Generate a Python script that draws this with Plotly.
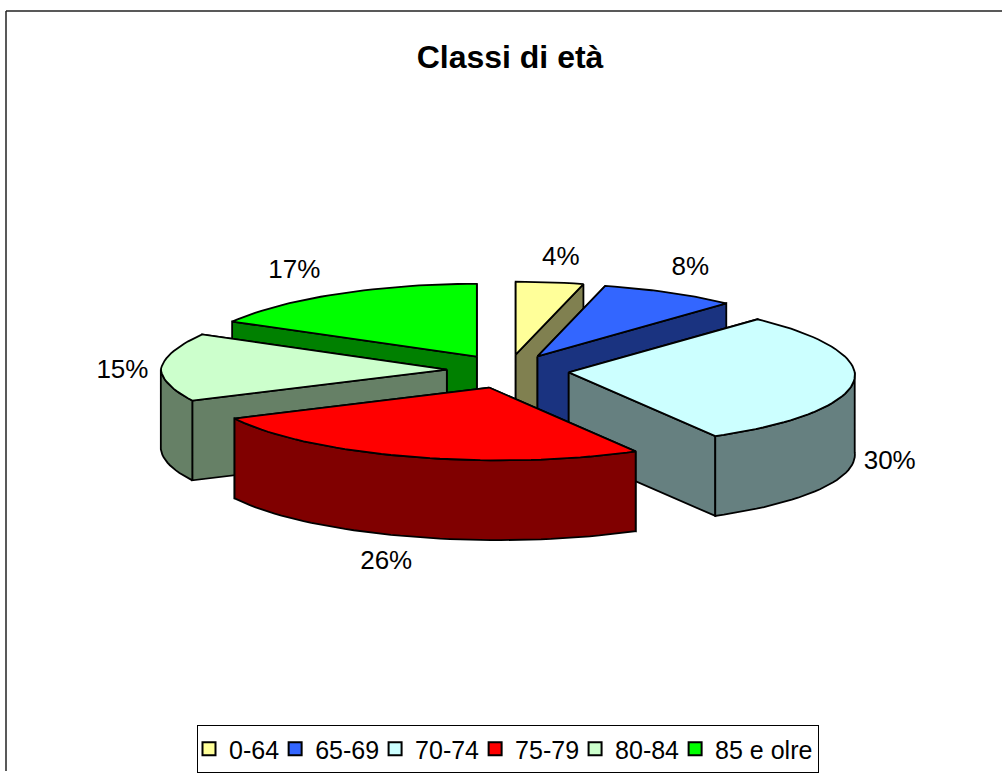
import math
import plotly.graph_objects as go

# ---- data ----
categories = ["0-64", "65-69", "70-74", "75-79", "80-84", "85 e olre"]
shares = [4, 8, 30, 26, 15, 17]
title = "Classi di età"

# ---- styles ----
top_colors = ["#FFFF99", "#3366FF", "#CCFFFF", "#FF0000", "#CCFFCC", "#00FF00"]
wall_colors = ["#808050", "#1A3380", "#668080", "#800000", "#668066", "#008000"]
label_offsets = [(11, -24), (21, -24), (36, 82), (-24, 109), (-39, 4), (-43, -23)]
FONT = "Liberation Sans, Arial, sans-serif"
W, H = 1002, 773
CX, CY, RX, RY = 508, 371, 286, 73
DEPTH, PULL = 80, 0.214
LW = 1.8


def unit(deg):
    a = math.radians(deg)
    return math.sin(a), -math.cos(a)


def project(ox, oz, u=0.0, v=0.0):
    # offset of the exploded slice plus a point on the disc, with a slight skew of the disc
    skew = 10 * v if v > 0 else 14 * u * v
    return CX + RX * (ox + u) + skew, CY + RY * (oz + v)


def rim(a0, a1, step=2.0):
    n = max(1, int(abs(a1 - a0) / step))
    return [a0 + (a1 - a0) * i / n for i in range(n + 1)]


fig = go.Figure()


def poly(pts, fill):
    xs = [p[0] for p in pts] + [pts[0][0]]
    ys = [p[1] for p in pts] + [pts[0][1]]
    fig.add_trace(go.Scatter(x=xs, y=ys, mode="lines", fill="toself", fillcolor=fill,
                             line=dict(color="black", width=LW), hoverinfo="skip",
                             showlegend=False))


total = sum(shares)
slices = []
acc = 0
for i, s in enumerate(shares):
    a0 = acc / total * 360
    acc += s
    a1 = acc / total * 360
    slices.append((i, a0, a1, (a0 + a1) / 2))

for i, a0, a1, mid in sorted(slices, key=lambda t: unit(t[3])[1]):
    mu, mv = unit(mid)
    ox, oz = PULL * mu, PULL * mv * (1.18 if mv > 0 else 1.0)

    def pt(a):
        return project(ox, oz, *unit(a))

    apex = project(ox, oz)

    def down(p):
        return (p[0], p[1] + DEPTH)

    # radial walls, farther one first
    for a in sorted([a0, a1], key=lambda a: unit(a)[1]):
        r = pt(a)
        poly([apex, r, down(r), down(apex)], wall_colors[i])
    # outer wall: only the near half of the rim faces the viewer
    v0, v1 = max(a0, 90), min(a1, 270)
    if v1 > v0:
        arc = [pt(a) for a in rim(v0, v1)]
        poly(arc + [down(p) for p in reversed(arc)], wall_colors[i])
    # top face
    poly([apex] + [pt(a) for a in rim(a0, a1)], top_colors[i])

# percentage labels
lx, ly, lt = [], [], []
for i, a0, a1, mid in slices:
    mu, mv = unit(mid)
    x, y = project(mu * PULL, mv * PULL, mu, mv)
    lx.append(x + label_offsets[i][0])
    ly.append(y + label_offsets[i][1])
    lt.append(f"{round(shares[i] / total * 100)}%")
fig.add_trace(go.Scatter(x=lx, y=ly, text=lt, mode="text", textposition="middle center",
                         textfont=dict(family=FONT, size=26, color="black"),
                         hoverinfo="skip", showlegend=False))

# legend entries
for name, col in zip(categories, top_colors):
    fig.add_trace(go.Scatter(x=[None], y=[None], mode="markers", name=name,
                             marker=dict(symbol="square", size=13, color=col,
                                         line=dict(color="black", width=2))))

fig.update_layout(
    width=W, height=H, autosize=False,
    margin=dict(l=0, r=0, t=0, b=0),
    paper_bgcolor="white", plot_bgcolor="white",
    xaxis=dict(range=[0, W], visible=False, fixedrange=True),
    yaxis=dict(range=[H, 0], visible=False, fixedrange=True),
    title=dict(text=f"<b>{title}</b>", x=510 / W, xanchor="center", y=1 - 57 / H, yanchor="middle",
               font=dict(family=FONT, size=32, color="black")),
    legend=dict(orientation="h", x=508 / W, xanchor="center", y=1 - 727 / H, yanchor="top",
                bgcolor="white", bordercolor="black", borderwidth=1, indentation=-9,
                font=dict(family=FONT, size=25, color="black"),
                itemwidth=30, itemclick=False, itemdoubleclick=False),
    shapes=[
        dict(type="line", xref="x", yref="y", x0=6, x1=W, y0=11, y1=11, line=dict(color="#222", width=1.5)),
        dict(type="line", xref="x", yref="y", x0=6, x1=6, y0=11, y1=H, line=dict(color="#222", width=1.5)),
    ],
)
fig.write_html("out.html", config={"displayModeBar": False},
               post_script="document.body.style.margin='0';document.documentElement.style.overflow='hidden';")
